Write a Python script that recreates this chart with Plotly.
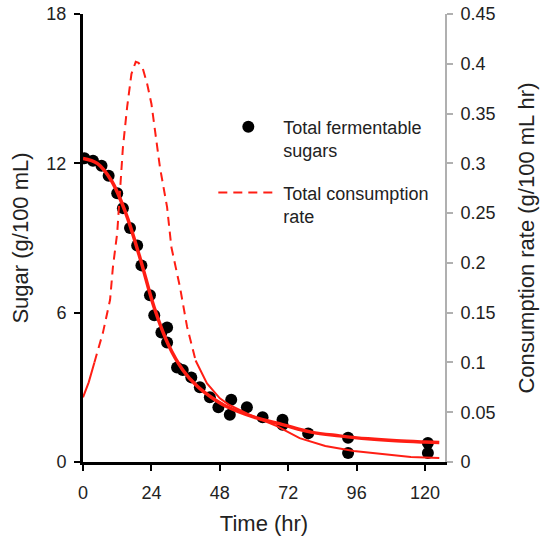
import plotly.graph_objects as go

# Observed sugar (g/100 mL)
obs_time = [0.5, 3.5, 6.5, 9, 12, 14, 16.5, 19, 20.5, 23.5, 25, 27.5, 29.5, 29.5, 33, 35, 38, 41,
            44.5, 47.5, 51.5, 52, 57.5, 63, 70, 70, 79, 93, 93, 121, 121]
obs_sugar = [12.2, 12.1, 11.9, 11.5, 10.8, 10.2, 9.4, 8.7, 7.9, 6.7, 5.9, 5.2, 5.4, 4.8, 3.8, 3.7, 3.4, 3.0,
             2.6, 2.2, 1.9, 2.5, 2.2, 1.8, 1.7, 1.5, 1.15, 0.97, 0.36, 0.76, 0.36]

# Fitted sugar curve
fit_time = [0, 5, 10, 15, 20, 25, 30, 35, 40, 45, 50, 60, 70, 80, 90, 100, 110, 120, 125]
fit_sugar = [12.2, 12.0, 11.3, 10.0, 8.2, 6.2, 4.7, 3.7, 3.05, 2.6, 2.25, 1.8, 1.5, 1.2, 1.05, 0.93, 0.85, 0.8, 0.78]

# Total consumption rate (g/100 mL hr)
rate_time = [0, 2, 4, 7, 9.5, 10.5, 12, 13, 14, 15.5, 17, 18.5, 19.5, 21, 22.5, 24, 25.5, 27, 29.5, 31,
             34, 36.5, 39.5, 43.5, 48, 51, 58, 68, 76, 85, 95, 105, 115, 125]
rate_val = [0.065, 0.08, 0.1, 0.13, 0.163, 0.196, 0.23, 0.27, 0.316, 0.357, 0.39, 0.402, 0.401, 0.395, 0.38,
            0.36, 0.33, 0.296, 0.256, 0.216, 0.176, 0.136, 0.102, 0.079, 0.064, 0.058, 0.048, 0.036, 0.024,
            0.016, 0.011, 0.008, 0.005, 0.004]

x_ticks = [0, 24, 48, 72, 96, 120]
y_ticks = [0, 6, 12, 18]
y2_ticks = [0, 0.05, 0.1, 0.15, 0.2, 0.25, 0.3, 0.35, 0.4, 0.45]
RED = "rgb(255,30,20)"
FONT = "Arial, Liberation Sans, Helvetica, sans-serif"

fig = go.Figure()

# rate curve: solid at the ends, dashed in the middle (as in the original)
i0 = 2   # t=4
i1 = 22  # t=39.5
fig.add_trace(go.Scatter(x=rate_time[:i0 + 1], y=rate_val[:i0 + 1], mode="lines", yaxis="y2",
                         line=dict(color=RED, width=2), showlegend=False, hoverinfo="skip"))
fig.add_trace(go.Scatter(x=rate_time[i1:], y=rate_val[i1:], mode="lines", yaxis="y2",
                         line=dict(color=RED, width=2), showlegend=False, hoverinfo="skip"))

fig.add_trace(go.Scatter(x=obs_time, y=obs_sugar, mode="markers", name="Total fermentable<br>sugars",
                         marker=dict(color="black", size=12), legendgroup="a"))
fig.add_trace(go.Scatter(x=rate_time[i0:i1 + 1], y=rate_val[i0:i1 + 1], mode="lines", yaxis="y2",
                         name="Total consumption<br>rate", legendgroup="b",
                         line=dict(color=RED, width=2, dash="9px,6px")))
fig.add_trace(go.Scatter(x=fit_time, y=fit_sugar, mode="lines", line=dict(color=RED, width=3.5),
                         showlegend=False, line_shape="spline"))

fig.update_layout(
    width=545, height=536,
    margin=dict(l=83, r=100, t=14, b=74),
    paper_bgcolor="white", plot_bgcolor="white",
    font=dict(family=FONT, size=18, color="#222"),
    xaxis=dict(range=[0, 127], tickvals=x_ticks, showgrid=False, zeroline=False, automargin=False,
               showline=True, linecolor="black", linewidth=3, ticks="outside", ticklen=6,
               tickwidth=2, tickcolor="black", ticklabelstandoff=6, ticklabeloverflow="allow",
               title=dict(text="Time (hr)", standoff=20)),
    yaxis=dict(range=[0, 18], tickvals=y_ticks, showgrid=False, zeroline=False, automargin=False,
               showline=True, linecolor="black", linewidth=3, ticks="outside", ticklen=6,
               tickwidth=2, tickcolor="black", ticklabelstandoff=4, ticklabeloverflow="allow",
               title=dict(text="Sugar (g/100 mL)", standoff=12)),
    yaxis2=dict(range=[0, 0.4501], tickvals=y2_ticks, overlaying="y", side="right", showgrid=False,
                zeroline=False, showline=True, linecolor="#b0b0b0", linewidth=2, ticks="outside",
                ticklen=6, tickwidth=2, tickcolor="#b0b0b0", automargin=False, ticklabelstandoff=4,
                ticklabeloverflow="allow",
                title=dict(text="Consumption rate (g/100 mL hr)", standoff=24)),
    legend=dict(x=0.36, y=0.789, xanchor="left", yanchor="top", bgcolor="rgba(0,0,0,0)",
                font=dict(size=18, color="#222"), tracegroupgap=16, itemwidth=60, valign="top"),
)

# remove the page's default 8px body margin so the figure fills the window exactly
fig.write_html("out.html", config={"displayModeBar": False},
               post_script="document.body.style.margin='0';")
